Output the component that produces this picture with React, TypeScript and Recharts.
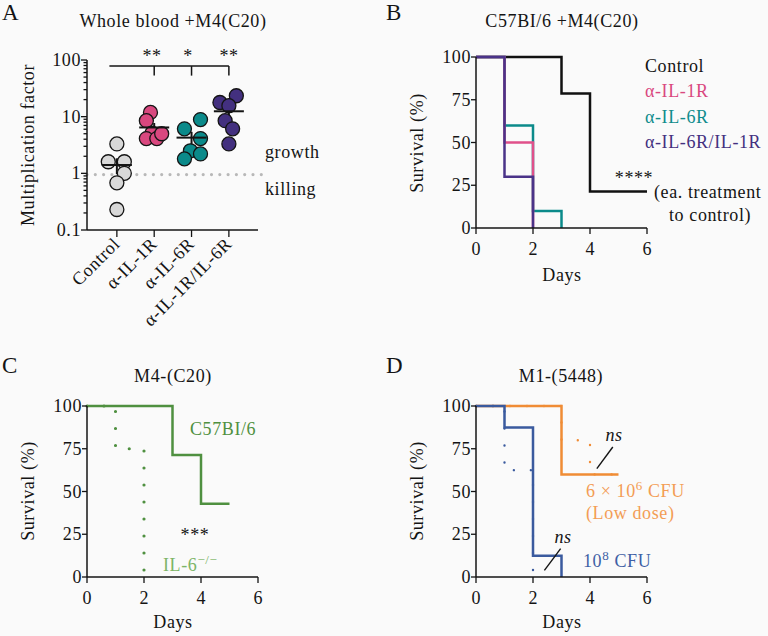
import React from 'react'
import {
  ScatterChart,
  Scatter,
  LineChart,
  Line,
  XAxis,
  YAxis,
  ReferenceLine,
  ErrorBar,
} from 'recharts'

// ============================================================
// Four-panel figure: A (log scatter), B/C/D (Kaplan-Meier steps)
// ============================================================

const FONT = '"Liberation Serif", "Times New Roman", serif'
const INK = '#141414'
const SPACING = 0.6

// ---------- Panel A data ----------
const groupsA = ['Control', 'α-IL-1R', 'α-IL-6R', 'α-IL-1R/IL-6R']
const colorsA = ['#d8d8d8', '#d9487f', '#0b8a8a', '#43307f']
const controlVals = [3.3, 1.6, 1.6, 1.0, 0.68, 0.23]
const controlJitter = [0, -0.23, 0.2, 0.2, 0, 0]
const il1rVals = [11.9, 8.5, 5.1, 4.1, 4.1, 5.0]
const il1rJitter = [-0.1, -0.21, -0.06, -0.21, 0.07, 0.2]
const il6rVals = [6.1, 8.9, 4.1, 2.5, 1.8, 2.2]
const il6rJitter = [-0.19, 0.24, 0.24, -0.03, -0.19, 0.24]
const bothVals = [17.8, 23.4, 15.6, 8.5, 6.1, 3.3]
const bothJitter = [-0.24, 0.2, 0, -0.1, 0.1, 0]
const majorTicksA = [0.1, 1, 10, 100]
const minorTicksA = [0.2, 0.3, 0.4, 0.5, 0.6, 0.7, 0.8, 0.9, 2, 3, 4, 5, 6, 7, 8, 9, 20, 30, 40, 50, 60, 70, 80, 90]
const thresholdA = 0.95

const valsA = [controlVals, il1rVals, il6rVals, bothVals]
const jitterA = [controlJitter, il1rJitter, il6rJitter, bothJitter]

// ---------- Panel B data ----------
const daysBControl = [0, 3, 4, 6]
const survBControl = [100, 78.6, 21.4, 21.4]
const daysBIl6r = [0, 1, 2, 3]
const survBIl6r = [100, 60, 10, 0]
const daysBIl1r = [0, 1, 2]
const survBIl1r = [100, 50, 0]
const daysBBoth = [0, 1, 2]
const survBBoth = [100, 30, 0]

// ---------- Panel C data ----------
const daysCWt = [0, 3, 4, 5]
const survCWt = [100, 71.4, 42.9, 42.9]
const daysCKo = [0, 1, 2]
const survCKo = [100, 75, 0]

// ---------- Panel D data ----------
const daysDLowDot = [0, 3, 4, 5]
const survDLowDot = [100, 80, 60, 60]
const daysDLow = [0, 3, 5]
const survDLow = [100, 60, 60]
const daysDHighDot = [0, 1, 2]
const survDHighDot = [100, 62.5, 0]
const daysDHigh = [0, 1, 2, 3]
const survDHigh = [100, 87.5, 12.5, 0]

const dayTicks = [0, 2, 4, 6]
const survTicks = [0, 25, 50, 75, 100]

const pts = (xs: number[], ys: number[]) => xs.map((x, i) => ({ x, y: ys[i] }))

function meanSem(v: number[]) {
  const m = v.reduce((a, b) => a + b, 0) / v.length
  const sd = Math.sqrt(v.reduce((a, b) => a + (b - m) ** 2, 0) / (v.length - 1))
  return { m, sem: sd / Math.sqrt(v.length) }
}

// ---------- ticks ----------
function LogYTick({ x, y, payload }: any) {
  const v = payload.value
  const major = majorTicksA.includes(v)
  return (
    <g>
      <line x1={x} x2={x - (major ? 6 : 3.5)} y1={y} y2={y} stroke={INK} strokeWidth={1.3} />
      {major && (
        <text x={x - 6} y={y + 6} textAnchor="end" fontSize={18} fontFamily={FONT} letterSpacing={SPACING} fill={INK}>
          {v}
        </text>
      )}
    </g>
  )
}

function GroupXTick({ x, y, payload }: any) {
  const label = groupsA[payload.value - 1]
  return (
    <g>
      <line x1={x} x2={x} y1={y} y2={y + 7} stroke={INK} strokeWidth={1.3} />
      <text
        transform={`translate(${x + 4},${y + 15}) rotate(-45)`}
        textAnchor="end"
        fontSize={18}
        fontFamily={FONT}
        letterSpacing={SPACING}
        fill={INK}
      >
        {label}
      </text>
    </g>
  )
}

function SurvYTick({ x, y, payload }: any) {
  return (
    <g>
      <line x1={x} x2={x - 5} y1={y} y2={y} stroke={INK} strokeWidth={1.3} />
      <text x={x - 5} y={y + 6} textAnchor="end" fontSize={18} fontFamily={FONT} letterSpacing={SPACING} fill={INK}>
        {payload.value}
      </text>
    </g>
  )
}

function DayXTick({ x, y, payload }: any) {
  return (
    <g>
      <line x1={x} x2={x} y1={y} y2={y + 6} stroke={INK} strokeWidth={1.3} />
      <text x={x} y={y + 27} textAnchor="middle" fontSize={18} fontFamily={FONT} fill={INK}>
        {payload.value}
      </text>
    </g>
  )
}

// ---------- Panel A ----------
function PanelA() {
  const stats = valsA.map(meanSem)
  const means = stats.map((s, i) => ({ x: i + 1, y: s.m, err: s.sem }))
  return (
    <ScatterChart width={280} height={345} margin={{ top: 60, right: 22, bottom: 15, left: 0 }}>
      <XAxis
        type="number"
        dataKey="x"
        domain={[0.2, 4.78]}
        ticks={[1, 2, 3, 4]}
        interval={0}
        height={100}
        tickSize={0}
        tickMargin={0}
        tick={<GroupXTick />}
        axisLine={{ stroke: INK, strokeWidth: 1.5 }}
        allowDataOverflow
      />
      <YAxis
        type="number"
        dataKey="y"
        scale="log"
        domain={[0.1, 100]}
        ticks={[...majorTicksA, ...minorTicksA]}
        interval={0}
        width={87}
        tickSize={0}
        tickMargin={0}
        tick={<LogYTick />}
        axisLine={{ stroke: INK, strokeWidth: 1.5 }}
        allowDataOverflow
      />
      <ReferenceLine
        segment={[{ x: 0.2, y: thresholdA }, { x: 4.98, y: thresholdA }]}
        stroke="#b8b8b8"
        strokeWidth={3.2}
        strokeDasharray="0 8.3"
        strokeLinecap="round"
        ifOverflow="visible"
      />
      <ReferenceLine segment={[{ x: 0.8, y: 78 }, { x: 4, y: 78 }]} stroke={INK} strokeWidth={1.5} ifOverflow="visible" />
      {[2, 3, 4].map((g) => (
        <ReferenceLine key={g} segment={[{ x: g, y: 78 }, { x: g, y: 53 }]} stroke={INK} strokeWidth={1.5} ifOverflow="visible" />
      ))}
      {valsA.map((vals, gi) => (
        <Scatter
          key={groupsA[gi]}
          data={vals.map((v, i) => ({ x: gi + 1 + jitterA[gi][i], y: v }))}
          isAnimationActive={false}
          shape={(p: any) => (
            <circle cx={p.cx} cy={p.cy} r={7} fill={colorsA[gi]} stroke={INK} strokeWidth={1.3} />
          )}
        />
      ))}
      <Scatter
        data={means}
        isAnimationActive={false}
        shape={(p: any) => (
          <line x1={p.cx - 15} x2={p.cx + 15} y1={p.cy} y2={p.cy} stroke={INK} strokeWidth={2} />
        )}
      >
        <ErrorBar dataKey="err" direction="y" width={0} stroke={INK} strokeWidth={2} />
      </Scatter>
    </ScatterChart>
  )
}

// ---------- Survival panels ----------
type Series = { data: { x: number; y: number }[]; color: string; dotted?: boolean; dotW?: number }

function Survival({ series, right, yWidth, top, height, extra }: {
  series: Series[]
  right: number
  yWidth: number
  top: number
  height: number
  extra?: React.ReactNode
}) {
  return (
    <LineChart width={384} height={height} margin={{ top, right, bottom: height - top - 171 - 40, left: 0 }}>
      <XAxis
        type="number"
        dataKey="x"
        domain={[0, 6]}
        ticks={dayTicks}
        interval={0}
        height={40}
        tickSize={0}
        tickMargin={0}
        tick={<DayXTick />}
        axisLine={{ stroke: INK, strokeWidth: 1.5 }}
      />
      <YAxis
        type="number"
        domain={[0, 100]}
        ticks={survTicks}
        interval={0}
        width={yWidth}
        tickSize={0}
        tickMargin={0}
        tick={<SurvYTick />}
        axisLine={{ stroke: INK, strokeWidth: 1.5 }}
      />
      {series.map((s, i) => (
        <Line
          key={i}
          data={s.data}
          dataKey="y"
          type="stepAfter"
          stroke={s.color}
          strokeWidth={s.dotted ? s.dotW ?? 3 : 2.5}
          strokeDasharray={s.dotted ? '0 17' : undefined}
          strokeLinecap={s.dotted ? 'round' : 'butt'}
          dot={false}
          activeDot={false}
          isAnimationActive={false}
        />
      ))}
      {extra}
    </LineChart>
  )
}

function Overlay() {
  const t = { fontFamily: FONT, fill: INK, fontSize: 18, letterSpacing: SPACING }
  return (
    <svg width={768} height={636} style={{ position: 'absolute', left: 0, top: 0, pointerEvents: 'none' }}>
      {/* A */}
      <text x={2} y={20} {...t} fontSize={23}>A</text>
      <text x={173} y={27} textAnchor="middle" {...t}>Whole blood +M4(C20)</text>
      <text transform="translate(34,145) rotate(-90)" textAnchor="middle" {...t}>Multiplication factor</text>
      <text x={152} y={62} textAnchor="middle" {...t}>**</text>
      <text x={188} y={62} textAnchor="middle" {...t}>*</text>
      <text x={229} y={62} textAnchor="middle" {...t}>**</text>
      <text x={265} y={158} {...t}>growth</text>
      <text x={265} y={195} {...t}>killing</text>

      {/* B */}
      <text x={386} y={20} {...t} fontSize={23}>B</text>
      <text x={562} y={27} textAnchor="middle" {...t}>C57BI/6 +M4(C20)</text>
      <text transform="translate(423,143) rotate(-90)" textAnchor="middle" {...t}>Survival (%)</text>
      <text x={562} y={281} textAnchor="middle" {...t}>Days</text>
      <text x={645} y={72} {...t}>Control</text>
      <text x={645} y={97} {...t} fill="#d9487f">α-IL-1R</text>
      <text x={645} y={122.5} {...t} fill="#0f8c8c">α-IL-6R</text>
      <text x={645} y={148} {...t} fill="#43307f">α-IL-6R/IL-1R</text>
      <text x={634} y={184} textAnchor="middle" {...t}>****</text>
      <text x={654} y={198} {...t}>(ea. treatment</text>
      <text x={669} y={221} {...t}>to control)</text>

      {/* C */}
      <text x={2} y={373} {...t} fontSize={23}>C</text>
      <text x={173} y={382} textAnchor="middle" {...t}>M4-(C20)</text>
      <text transform="translate(34,491) rotate(-90)" textAnchor="middle" {...t}>Survival (%)</text>
      <text x={173} y={628} textAnchor="middle" {...t}>Days</text>
      <text x={190} y={435} {...t} fill="#4f9040">C57BI/6</text>
      <text x={195} y={541} textAnchor="middle" {...t}>***</text>
      <text x={163} y={571} {...t} fill="#7db567">
        IL-6<tspan dy={-7} fontSize={13}>−/−</tspan>
      </text>

      {/* D */}
      <text x={386} y={373} {...t} fontSize={23}>D</text>
      <text x={561} y={382} textAnchor="middle" {...t}>M1-(5448)</text>
      <text transform="translate(423,491) rotate(-90)" textAnchor="middle" {...t}>Survival (%)</text>
      <text x={562} y={628} textAnchor="middle" {...t}>Days</text>
      <text x={614} y={441} textAnchor="middle" {...t} fontStyle="italic">ns</text>
      <text x={563} y={543} textAnchor="middle" {...t} fontStyle="italic">ns</text>
      <text x={586} y={497} {...t} fill="#f39d55">
        6 × 10<tspan dy={-7} fontSize={13}>6</tspan>
        <tspan dy={7}> CFU</tspan>
      </text>
      <text x={586} y={519} {...t} fill="#f39d55">(Low dose)</text>
      <text x={583} y={567} {...t} fill="#3e5fa5">
        10<tspan dy={-7} fontSize={13}>8</tspan>
        <tspan dy={7}> CFU</tspan>
      </text>
    </svg>
  )
}

export default function App() {
  return (
    <div style={{ position: 'absolute', left: 0, top: 0, width: 768, height: 636, background: '#fafafa', overflow: 'hidden' }}>
      <div style={{ position: 'absolute', left: 0, top: 0 }}>
        <PanelA />
      </div>
      <div style={{ position: 'absolute', left: 384, top: 0 }}>
        <Survival
          top={57}
          height={300}
          right={121}
          yWidth={92}
          series={[
            { data: pts(daysBControl, survBControl), color: '#111111' },
            { data: pts(daysBIl6r, survBIl6r), color: '#0b8a8a' },
            { data: pts(daysBIl1r, survBIl1r), color: '#e0508a' },
            { data: pts(daysBBoth, survBBoth), color: '#4a3388' },
          ]}
        />
      </div>
      <div style={{ position: 'absolute', left: 0, top: 320 }}>
        <Survival
          top={86}
          height={316}
          right={126}
          yWidth={87}
          series={[
            { data: pts(daysCKo, survCKo), color: '#4f9040', dotted: true, dotW: 3.2 },
            { data: pts(daysCWt, survCWt), color: '#4f9040' },
          ]}
        />
      </div>
      <div style={{ position: 'absolute', left: 384, top: 320 }}>
        <Survival
          top={86}
          height={316}
          right={121}
          yWidth={92}
          series={[
            { data: pts(daysDLowDot, survDLowDot), color: '#f08c35', dotted: true, dotW: 2.4 },
            { data: pts(daysDLow, survDLow), color: '#f08c35' },
            { data: pts(daysDHighDot, survDHighDot), color: '#3a5a9e', dotted: true, dotW: 2.4 },
            { data: pts(daysDHigh, survDHigh), color: '#3a5a9e' },
          ]}
          extra={[
            <ReferenceLine key="ns1" segment={[{ x: 4.24, y: 63.4 }, { x: 4.8, y: 76 }]} stroke={INK} strokeWidth={1.4} ifOverflow="visible" />,
            <ReferenceLine key="ns2" segment={[{ x: 2.4, y: 3.9 }, { x: 2.97, y: 16.6 }]} stroke={INK} strokeWidth={1.4} ifOverflow="visible" />,
          ]}
        />
      </div>
      <Overlay />
    </div>
  )
}
